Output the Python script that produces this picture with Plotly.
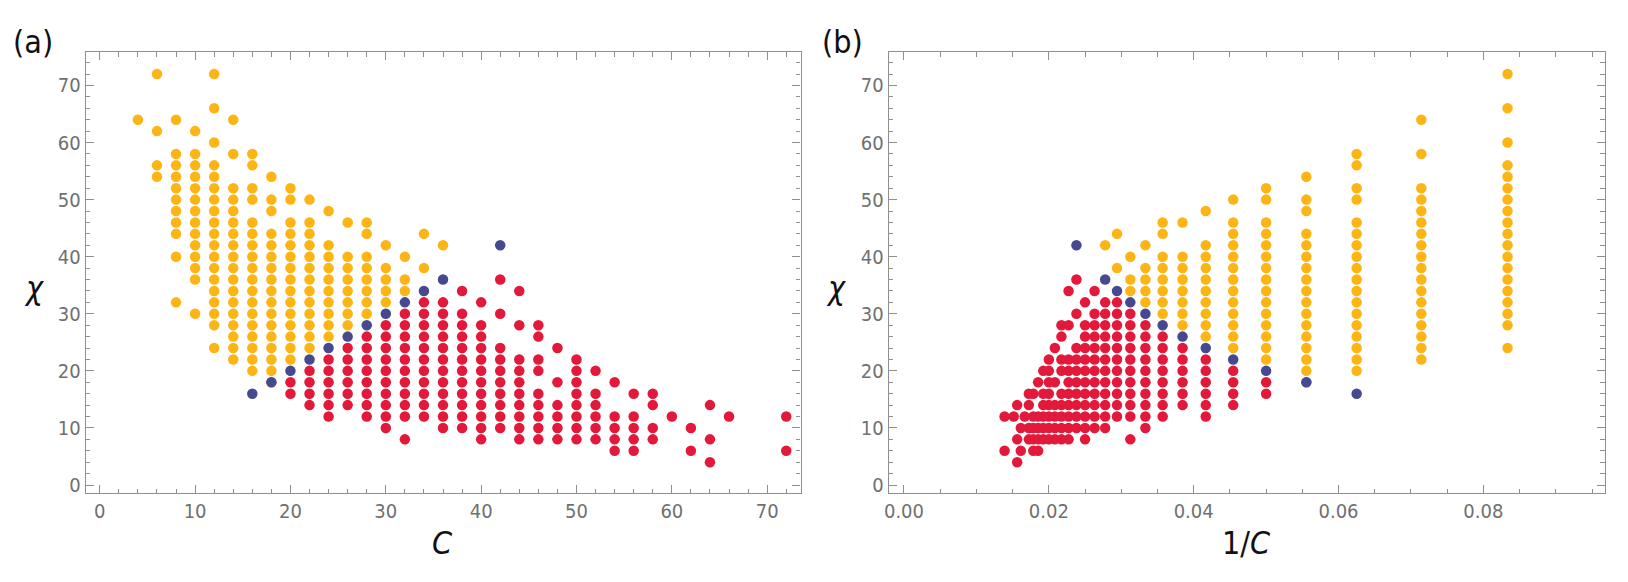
import plotly.graph_objects as go

# ---- data: chi values per C, by class ----
yellow = {
    4: [64],
    6: [72, 62, 56, 54],
    8: [64, 58, 56, 54, 52, 50, 48, 46, 44, 40, 32],
    10: [62, 58, 56, 54, 52, 50, 48, 46, 44, 42, 40, 38, 36, 30],
    12: [72, 66, 60, 56, 54, 52, 50, 48, 46, 44, 42, 40, 38, 36, 34, 32, 30, 28, 24],
    14: [64, 58, 52, 50, 48, 46, 44, 42, 40, 38, 36, 34, 32, 30, 28, 26, 24, 22],
    16: [58, 56, 52, 50, 46, 44, 42, 40, 38, 36, 34, 32, 30, 28, 26, 24, 22, 20],
    18: [54, 50, 48, 44, 42, 40, 38, 36, 34, 32, 30, 28, 26, 24, 22, 20, 18],
    20: [52, 50, 46, 44, 42, 40, 38, 36, 34, 32, 30, 28, 26, 24, 22],
    22: [50, 46, 44, 42, 40, 38, 36, 34, 32, 30, 28, 26, 24],
    24: [48, 42, 40, 38, 36, 34, 32, 30, 28, 26],
    26: [46, 40, 38, 36, 34, 32, 30, 28],
    28: [46, 44, 40, 38, 36, 34, 32, 30],
    30: [42, 38, 36, 34, 32],
    32: [40, 36, 34],
    34: [44, 38],
    36: [42],
}
blue = {16: [16], 18: [18], 20: [20], 22: [22], 24: [24], 26: [26], 28: [28],
        30: [30], 32: [32], 34: [34], 36: [36], 42: [42]}
red = {
    20: [18, 16],
    22: [20, 18, 16, 14],
    24: [22, 20, 18, 16, 14, 12],
    26: [24, 22, 20, 18, 16, 14],
    28: [26, 24, 22, 20, 18, 16, 14, 12],
    30: [28, 26, 24, 22, 20, 18, 16, 14, 12, 10],
    32: [30, 28, 26, 24, 22, 20, 18, 16, 14, 12, 8],
    34: [32, 30, 28, 26, 24, 22, 20, 18, 16, 14, 12],
    36: [32, 30, 28, 26, 24, 22, 20, 18, 16, 14, 12, 10],
    38: [34, 30, 28, 26, 24, 22, 20, 18, 16, 14, 12, 10],
    40: [32, 28, 26, 24, 22, 20, 18, 16, 14, 12, 10, 8],
    42: [36, 30, 24, 22, 20, 18, 16, 14, 12, 10],
    44: [34, 28, 22, 20, 18, 16, 14, 12, 10, 8],
    46: [28, 26, 22, 20, 16, 14, 12, 10, 8],
    48: [24, 18, 14, 12, 10, 8],
    50: [22, 20, 18, 16, 14, 12, 10, 8],
    52: [20, 16, 14, 12, 10, 8],
    54: [18, 12, 10, 8, 6],
    56: [16, 12, 10, 8, 6],
    58: [16, 14, 10, 8],
    60: [12],
    62: [10, 6],
    64: [14, 8, 4],
    66: [12],
    72: [12, 6],
}
x_ticks_a = [0, 10, 20, 30, 40, 50, 60, 70]
y_ticks = [0, 10, 20, 30, 40, 50, 60, 70]
x_ticks_b = [0.0, 0.02, 0.04, 0.06, 0.08]

YELLOW = "#FDB515"
RED = "#E2193B"
BLUE = "#474990"


def flatten(d):
    xs, ys = [], []
    for c, vals in d.items():
        for v in vals:
            xs.append(c)
            ys.append(v)
    return xs, ys


fig = go.Figure()
for d, col in [(yellow, YELLOW), (red, RED), (blue, BLUE)]:
    cx, cy = flatten(d)
    fig.add_trace(go.Scatter(x=cx, y=cy, mode="markers", xaxis="x", yaxis="y",
                             marker=dict(color=col, size=10.5, line=dict(width=0)),
                             showlegend=False, hoverinfo="skip"))
    fig.add_trace(go.Scatter(x=[1.0 / c for c in cx], y=cy, mode="markers", xaxis="x2", yaxis="y2",
                             marker=dict(color=col, size=10.5, line=dict(width=0)),
                             showlegend=False, hoverinfo="skip"))

FONT = "Liberation Sans Narrow, DejaVu Sans Condensed, Arial Narrow, sans-serif"
FRAME = "#8f8f8f"
TICKFONT = dict(family=FONT, size=20, color="#707070")

base = dict(showline=True, linecolor=FRAME, linewidth=1.3, mirror="allticks",
            ticks="inside", ticklen=8, tickwidth=1, tickcolor=FRAME,
            showgrid=False, zeroline=False, tickfont=TICKFONT)

W, H = 1628, 582
top, bot = 52.7, 496.7
fig.update_layout(
    width=W, height=H, margin=dict(l=0, r=0, t=0, b=0),
    paper_bgcolor="white", plot_bgcolor="white",
    xaxis=dict(base, domain=[81 / W, 798 / W], range=[-1.47, 73.5], anchor="y",
               tickvals=x_ticks_a, minor=dict(ticks="inside", ticklen=4.5, tickcolor=FRAME, dtick=2, tick0=0)),
    yaxis=dict(base, domain=[1 - bot / H, 1 - top / H], range=[-1.45, 75.8], anchor="x",
               tickvals=y_ticks, minor=dict(ticks="inside", ticklen=4.5, tickcolor=FRAME, dtick=2, tick0=0)),
    xaxis2=dict(base, domain=[886.5 / W, 1605 / W], range=[-0.0021, 0.0968], anchor="y2",
                tickvals=x_ticks_b, tickformat=".2f",
                minor=dict(ticks="inside", ticklen=4.5, tickcolor=FRAME, dtick=0.005, tick0=0)),
    yaxis2=dict(base, domain=[1 - bot / H, 1 - top / H], range=[-1.45, 75.8], anchor="x2",
                tickvals=y_ticks, minor=dict(ticks="inside", ticklen=4.5, tickcolor=FRAME, dtick=2, tick0=0)),
)

ann = [
    dict(text="(a)", x=28 / W, y=1 - 42 / H, size=32),
    dict(text="(b)", x=840 / W, y=1 - 42 / H, size=32),
    dict(text="<i>C</i>", x=439 / W, y=1 - 547 / H, size=32),
    dict(text="1/<i>C</i>", x=1245 / W, y=1 - 547 / H, size=32),
    dict(text="<i>χ</i>", x=29 / W, y=1 - 290 / H, size=32),
    dict(text="<i>χ</i>", x=834 / W, y=1 - 290 / H, size=32),
]
for a in ann:
    fig.add_annotation(text=a["text"], x=a["x"], y=a["y"], xref="paper", yref="paper",
                       xanchor="center", yanchor="middle", showarrow=False,
                       font=dict(family=FONT, size=a["size"], color="#111111"))

fig.write_html("out.html")
